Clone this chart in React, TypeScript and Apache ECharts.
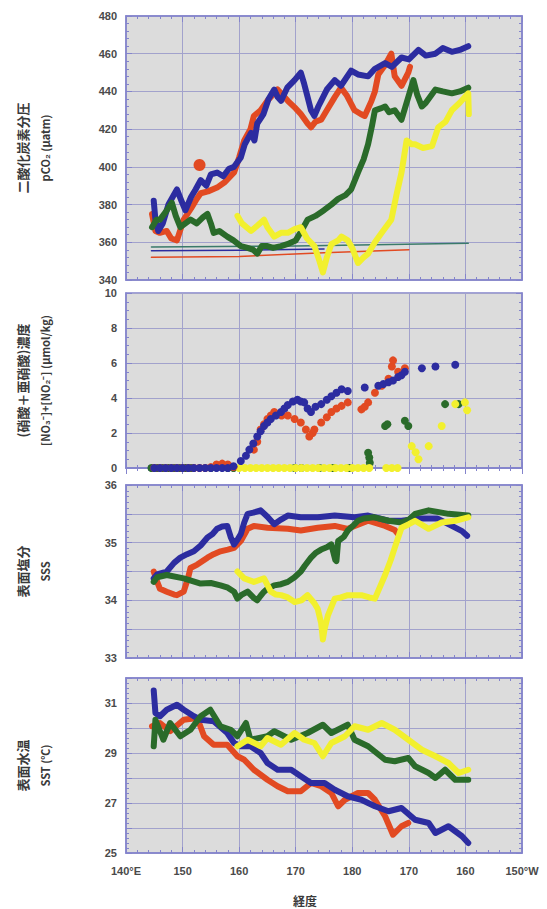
import React, { useEffect, useRef } from "react";
import * as echarts from "echarts";

// ---- Longitude axis ----
const lonTicks = [140, 150, 160, 170, 180, 190, 200, 210];
const lonTickLabels = ["140°E", "150", "160", "170", "180", "170", "160", "150°W"];

// ---- Panel 1: pCO2 (μatm) ----
const pco2Blue = [[144.9,382],[145.2,372],[145.7,366],[146.5,370],[147.5,380],[149.0,388],[149.8,382],[150.5,377],[151.5,384],[152.3,388],[153.2,393],[154.2,390],[155.0,396],[156.1,397],[157.2,395],[158.2,399],[159.1,400],[160.3,405],[161.0,412],[162.1,418],[162.7,414],[163.2,423],[164.3,428],[165.2,436],[166.2,441],[166.8,437],[167.4,435],[168.5,442],[169.8,446],[170.9,450],[171.5,444],[172.1,437],[172.7,430],[173.3,427],[174.0,432],[174.5,435],[175.5,441],[176.9,446],[178.0,443],[179.8,451],[181.0,449],[182.8,448],[184.0,452],[185.8,455],[187.0,453],[188.7,458],[190.0,457],[191.7,462],[193.0,459],[194.7,460],[196.0,463],[197.6,461],[199.0,462],[200.5,464]];
const pco2Red = [[144.6,375],[145.2,366],[146.0,365],[147.2,366],[148.0,362],[149.0,361],[150.2,372],[151.5,378],[152.5,383],[153.2,386],[154.5,387],[156.1,389],[157.5,392],[159.1,397],[160.0,405],[160.9,414],[162.0,420],[162.6,427],[163.8,430],[165.0,435],[166.8,441],[168.0,437],[168.6,435],[170.0,431],[170.9,428],[172.1,423],[172.7,421],[173.5,424],[174.5,425],[175.5,430],[176.9,437],[178.0,442],[179.0,438],[180.4,430],[181.5,428],[182.2,427],[183.4,435],[184.0,440],[184.6,449],[185.8,454],[186.9,460],[187.5,448],[188.7,443],[189.9,450],[190.2,453]];
const pco2RedBlob = [[153.0, 401]];
const pco2Green = [[144.6,368],[145.4,372],[146.0,372],[147.0,376],[148.1,381],[148.8,374],[149.6,368],[150.5,370],[151.4,372],[152.5,370],[153.5,373],[154.4,375],[155.0,370],[155.5,365],[156.5,366],[157.9,363],[159.0,361],[160.3,358],[161.5,357],[162.5,356],[163.2,354],[164.0,358],[165.0,358],[166.0,357],[167.4,358],[168.5,359],[170.0,361],[171.0,366],[172.1,372],[173.5,374],[175.0,377],[176.3,380],[177.5,383],[178.8,385],[179.8,388],[181.0,397],[182.0,404],[182.8,412],[183.5,422],[184.0,430],[185.0,431],[185.8,432],[186.5,429],[187.5,430],[188.7,425],[189.3,431],[189.9,437],[190.8,446],[191.5,438],[192.3,432],[193.0,434],[194.7,441],[196.0,440],[197.6,439],[199.0,440],[200.5,442]];
const pco2Yellow = [[159.7,374],[160.5,370],[162.1,366],[163.3,369],[164.4,372],[165.0,368],[166.2,363],[167.4,365],[168.6,365],[169.8,367],[170.9,368],[172.0,362],[173.3,358],[174.2,350],[174.8,344],[175.5,352],[176.3,359],[177.5,361],[178.1,363],[179.2,361],[180.0,357],[181.0,349],[182.0,352],[182.8,354],[184.0,360],[185.2,365],[186.9,372],[187.8,385],[188.7,397],[189.6,414],[190.5,412],[191.1,412],[192.5,410],[194.1,411],[195.2,421],[196.5,424],[197.6,430],[199.0,434],[200.5,439],[200.6,428]];
const atmBlue = [[144.5,355.5],[160,355.8],[175,356.5]];
const atmRed = [[144.5,352],[160,352.5],[175,354.5],[190,356]];
const atmTeal = [[144.5,357.5],[170,358],[200.5,359.5]];

// ---- Panel 2: nitrate + nitrite (μmol/kg) ----
const no3Blue = [[145,0],[146,0],[147,0],[148,0],[149,0],[150,0],[151,0],[152,0],[153,0],[154,0],[155,0],[156,0],[157,0],[158,0],[159,0.1],[160.3,0.4],[161.2,0.7],[161.8,1.05],[162.5,1.4],[163.2,1.8],[163.8,2.1],[164.4,2.4],[165.0,2.6],[165.6,2.8],[166.5,3.0],[167.4,3.2],[168.0,3.4],[168.6,3.6],[169.5,3.8],[170.3,3.9],[170.9,3.8],[171.5,3.75],[172.1,3.4],[172.7,3.2],[173.5,3.5],[174.5,3.65],[175.5,3.9],[176.3,4.1],[177.2,4.3],[178.1,4.5],[179.2,4.4],[182.2,4.6],[184.6,4.7],[185.5,4.8],[186.4,4.9],[187.2,5.0],[188.1,5.2],[188.7,5.3],[189.3,5.5],[192.3,5.7],[194.7,5.8],[198.2,5.9]];
const no3Red = [[145,0],[146,0],[147,0],[148,0],[149,0],[150,0],[151,0],[152,0],[153,0],[154,0],[155,0.05],[156,0.2],[157,0.25],[158,0.2],[159,0.05],[162.6,1.05],[163.2,1.5],[163.8,2.2],[164.4,2.5],[165.0,2.8],[165.6,3.0],[166.2,3.2],[167.5,3.0],[168.6,3.0],[169.8,2.8],[170.9,2.6],[171.8,2.2],[172.4,1.8],[173.0,2.0],[173.3,2.2],[174.5,2.6],[175.5,2.9],[176.3,3.2],[177.2,3.4],[178.1,3.55],[179.2,3.75],[181.6,3.35],[182.2,3.5],[182.8,3.75],[184.0,4.3],[185.2,4.7],[186.4,5.1],[187.0,5.8],[187.2,6.15],[188.1,5.5],[189.3,5.7]];
const no3Green = [[144.5,0],[145.5,0],[146.5,0],[147.5,0],[148.5,0],[149.5,0],[150.5,0],[151.5,0],[155,0],[158,0],[159,0],[169.8,0],[171,0],[174.2,0],[176.6,0],[179.5,0],[183.0,0.6],[183.1,0.3],[182.8,0.87],[185.8,2.4],[186.2,2.5],[189.3,2.7],[189.9,2.4],[196.4,3.65],[198.8,3.65]];
const no3Yellow = [[160,0],[161,0],[162,0],[163,0],[164,0],[165,0],[166,0],[167,0],[168,0],[169,0],[170,0],[171,0],[172,0],[173,0],[174,0],[175,0],[176,0],[177,0],[178,0],[179,0],[180,0],[181,0],[182,0],[183,0],[186,0],[187,0],[188,0],[190.5,1.25],[191.2,0.9],[191.7,0.5],[193.5,1.25],[195.8,2.4],[198.2,3.65],[199.9,3.75],[200.3,3.3]];

// ---- Panel 3: SSS ----
const sssBlue = [[144.9,34.38],[145.5,34.45],[147.2,34.5],[148.5,34.65],[149.6,34.74],[150.8,34.8],[152.0,34.85],[153.2,34.95],[154.4,35.09],[155.3,35.15],[156.1,35.24],[157.0,35.28],[157.9,35.29],[158.5,35.1],[159.1,34.97],[159.7,35.05],[160.3,35.15],[160.9,35.35],[161.5,35.5],[162.5,35.52],[163.8,35.56],[165.0,35.45],[166.2,35.32],[167.4,35.4],[168.6,35.47],[170.9,35.44],[173.9,35.44],[176.9,35.47],[180.4,35.44],[182.8,35.47],[186.4,35.38],[188.7,35.38],[192.0,35.42],[195.0,35.42],[198.2,35.26],[199.4,35.2],[200.3,35.12]];
const sssRed = [[144.9,34.5],[145.4,34.35],[146.0,34.2],[147.2,34.15],[148.5,34.1],[149.0,34.09],[150.2,34.15],[151.0,34.4],[151.4,34.56],[152.6,34.62],[154.4,34.74],[155.5,34.8],[156.7,34.85],[158.0,34.88],[159.1,34.91],[160.3,35.03],[161.5,35.24],[162.6,35.29],[165.0,35.26],[168.6,35.24],[170.9,35.21],[173.9,35.26],[176.9,35.29],[179.2,35.24],[182.8,35.38],[185.8,35.29],[187.5,35.22],[188.1,35.15]];
const sssGreen = [[144.9,34.32],[145.5,34.4],[147.2,34.44],[150.2,34.38],[153.2,34.29],[155.0,34.3],[156.7,34.26],[158.0,34.22],[159.1,34.15],[159.7,34.03],[160.5,34.1],[161.5,34.15],[162.5,34.05],[163.2,34.0],[163.8,34.08],[164.4,34.15],[165.0,34.2],[166.2,34.26],[167.4,34.28],[168.6,34.32],[169.8,34.4],[170.9,34.5],[171.6,34.6],[172.7,34.74],[173.5,34.82],[174.5,34.88],[175.5,34.92],[176.3,34.97],[177.0,34.7],[177.2,34.68],[177.5,35.03],[178.5,35.1],[179.2,35.21],[180.2,35.3],[181.0,35.38],[182.0,35.42],[183.9,35.44],[186.4,35.38],[188.7,35.35],[190.0,35.4],[191.1,35.5],[193.5,35.56],[197.0,35.5],[200.5,35.47]];
const sssYellow = [[159.7,34.5],[160.9,34.38],[162.6,34.32],[164.4,34.38],[165.6,34.15],[166.5,34.1],[167.4,34.09],[168.6,34.05],[169.8,33.97],[171.0,34.0],[172.1,34.09],[173.3,33.95],[173.9,33.85],[174.5,33.6],[174.8,33.32],[175.1,33.5],[175.7,33.74],[176.9,34.03],[178.0,34.05],[179.2,34.09],[181.6,34.09],[183.0,34.05],[184.0,34.03],[185.8,34.44],[186.8,34.7],[187.5,34.91],[188.7,35.26],[190.0,35.32],[191.1,35.38],[193.5,35.24],[195.8,35.35],[198.2,35.38],[200.5,35.44]];

// ---- Panel 4: SST (℃) ----
const sstBlue = [[144.9,31.5],[145.2,30.6],[146.0,30.47],[147.2,30.73],[149.0,30.93],[150.2,30.73],[152.0,30.47],[153.2,30.33],[155.5,30.27],[157.9,29.8],[159.1,29.4],[160.3,29.27],[162.0,29.27],[163.8,29.0],[165.0,28.6],[166.8,28.33],[169.2,28.33],[170.9,28.07],[172.7,27.8],[175.1,27.8],[176.9,27.53],[179.2,27.27],[181.6,27.13],[184.0,26.87],[186.4,26.67],[188.7,26.8],[191.1,26.33],[193.5,26.2],[194.7,25.8],[197.0,26.07],[199.4,25.67],[200.5,25.4]];
const sstRed = [[144.6,30.07],[146.0,30.2],[147.8,29.87],[150.2,30.33],[152.6,30.4],[153.8,29.67],[155.5,29.33],[157.9,29.33],[159.7,28.87],[160.9,28.73],[162.6,28.33],[165.0,27.93],[166.8,27.67],[168.6,27.47],[170.9,27.47],[172.7,27.8],[174.5,27.67],[176.3,27.4],[177.5,26.87],[178.7,27.13],[181.0,27.4],[182.8,27.4],[184.0,27.13],[185.8,26.47],[187.2,25.73],[188.7,26.07],[189.9,26.2]];
const sstGreen = [[144.9,29.27],[145.2,30.33],[146.6,29.53],[147.8,30.2],[149.6,29.67],[151.4,29.93],[153.2,30.47],[154.9,30.73],[156.7,30.07],[158.5,29.93],[159.7,29.67],[161.2,30.2],[162.0,29.53],[165.0,29.67],[166.2,29.87],[169.2,29.53],[172.1,29.8],[174.8,30.13],[176.3,29.8],[179.2,30.13],[180.4,29.53],[182.8,29.27],[185.8,28.73],[187.5,28.67],[189.9,28.8],[191.1,28.47],[193.5,28.2],[194.7,28.0],[196.4,28.33],[198.2,27.93],[200.5,27.93]];
const sstYellow = [[159.7,29.27],[161.5,29.53],[163.8,29.27],[165.0,29.6],[167.4,29.33],[169.8,29.8],[171.5,29.53],[173.3,29.4],[174.8,28.87],[176.3,29.4],[178.7,29.67],[180.4,30.07],[182.8,29.93],[185.2,30.2],[187.5,29.93],[189.9,29.53],[192.3,29.13],[194.7,28.87],[197.0,28.6],[198.8,28.2],[200.5,28.33]];

// ---- Axis titles ----
const yTitles = [
  ["二酸化炭素分圧", "pCO₂ (μatm)"],
  ["(硝酸＋亜硝酸)濃度", "[NO₃⁻]+[NO₂⁻] (μmol/kg)"],
  ["表面塩分", "SSS"],
  ["表面水温", "SST (℃)"],
];
const xTitle = "経度";

const C = {
  red: "#e24a22",
  blue: "#2c2ca0",
  green: "#2a6b2a",
  yellow: "#f2f02e",
  bg: "#dcdcdc",
  grid: "#a2a2cc",
  frame: "#8484cc",
  text: "#4a4a4a",
};

const grids = [
  { left: 126, top: 16, width: 396, height: 264 },
  { left: 126, top: 293, width: 396, height: 175 },
  { left: 126, top: 485, width: 396, height: 173 },
  { left: 126, top: 678, width: 396, height: 175 },
];

const yCfg = [
  { min: 340, max: 480, interval: 20, minor: 5, fmt: (v: number) => String(v) },
  { min: 0, max: 10, interval: 2, minor: 4, fmt: (v: number) => String(v) },
  { min: 33, max: 36, interval: 0.5, minor: 5, fmt: (v: number) => (Math.abs(v - Math.round(v)) < 1e-6 ? String(Math.round(v)) : "") },
  { min: 25, max: 32, interval: 1, minor: 5, fmt: (v: number) => (Math.round(v) % 2 === 1 ? String(Math.round(v)) : "") },
];

export default function App() {
  const ref = useRef<HTMLDivElement>(null);
  useEffect(() => {
    document.body.style.margin = "0";
    if (!ref.current) return;
    const chart = echarts.init(ref.current, undefined, { renderer: "svg" });

    const tickStyle = { color: C.frame, width: 1 };
    const xAxes: any[] = [];
    const yAxes: any[] = [];
    grids.forEach((g, i) => {
      const base = {
        type: "value",
        gridIndex: i,
        min: 140,
        max: 210,
        interval: 10,
        axisLine: { show: true, lineStyle: { color: C.frame, width: 1.5 } },
        axisTick: { show: true, inside: true, length: 6, lineStyle: tickStyle },
        minorTick: { show: true, splitNumber: 5, length: 3, lineStyle: tickStyle },
      };
      xAxes.push({
        ...base,
        position: "bottom",
        splitLine: { show: true, lineStyle: { color: C.grid, width: 1 } },
        axisLabel: {
          show: i === 3,
          margin: 12,
          color: C.text,
          fontSize: 11,
          fontWeight: "bold",
          fontFamily: "Liberation Sans, Arial, sans-serif",
          formatter: (v: number) => {
            const k = lonTicks.indexOf(Math.round(v));
            return k >= 0 ? lonTickLabels[k] : "";
          },
        },
      });
      xAxes.push({ ...base, position: "top", splitLine: { show: false }, axisLabel: { show: false } });
      const yc = yCfg[i];
      const ybase = {
        type: "value",
        gridIndex: i,
        min: yc.min,
        max: yc.max,
        interval: yc.interval,
        axisLine: { show: true, lineStyle: { color: C.frame, width: 1.5 } },
        axisTick: { show: true, inside: true, length: 6, lineStyle: tickStyle },
        minorTick: { show: true, splitNumber: yc.minor, length: 3, lineStyle: tickStyle },
      };
      yAxes.push({
        ...ybase,
        position: "left",
        splitLine: { show: true, lineStyle: { color: C.grid, width: 1 } },
        axisLabel: {
          show: true,
          margin: 9,
          color: C.text,
          fontSize: 11,
          fontWeight: "bold",
          fontFamily: "Liberation Sans, Arial, sans-serif",
          formatter: yc.fmt,
        },
      });
      yAxes.push({ ...ybase, position: "right", splitLine: { show: false }, axisLabel: { show: false } });
    });

    const line = (data: number[][], color: string, gi: number, width = 6, z = 2) => ({
      type: "line",
      data,
      xAxisIndex: gi * 2,
      yAxisIndex: gi * 2,
      showSymbol: false,
      symbol: "none",
      lineStyle: { color, width, join: "round", cap: "round" },
      z,
      silent: true,
    });
    const dots = (data: number[][], color: string, gi: number, size = 8) => ({
      type: "scatter",
      data,
      xAxisIndex: gi * 2,
      yAxisIndex: gi * 2,
      symbol: "circle",
      symbolSize: size,
      itemStyle: { color, opacity: 1 },
      silent: true,
    });

    const series: any[] = [
      line(atmRed, C.red, 0, 1.5),
      line(atmBlue, C.blue, 0, 1.5),
      line(atmTeal, "#3a7a6a", 0, 1.5),
      line(pco2Red, C.red, 0),
      dots(pco2RedBlob, C.red, 0, 12),
      line(pco2Blue, C.blue, 0),
      line(pco2Green, C.green, 0),
      line(pco2Yellow, C.yellow, 0),

      dots(no3Green, C.green, 1),
      dots(no3Yellow, C.yellow, 1),
      dots(no3Red, C.red, 1),
      dots(no3Blue, C.blue, 1),

      line(sssRed, C.red, 2),
      line(sssBlue, C.blue, 2),
      line(sssGreen, C.green, 2),
      line(sssYellow, C.yellow, 2),

      line(sstRed, C.red, 3),
      line(sstBlue, C.blue, 3),
      line(sstGreen, C.green, 3),
      line(sstYellow, C.yellow, 3),
    ];

    const graphics: any[] = [];
    grids.forEach((g, i) => {
      const cy = g.top + g.height / 2;
      graphics.push({
        type: "text",
        x: 22,
        y: cy,
        rotation: Math.PI / 2,
        style: {
          text: yTitles[i][0],
          align: "center",
          verticalAlign: "middle",
          fill: "#3a3a3a",
          font: "bold 13px 'Noto Sans CJK JP', sans-serif",
        },
      });
      graphics.push({
        type: "text",
        x: 45,
        y: cy,
        rotation: Math.PI / 2,
        style: {
          text: yTitles[i][1],
          align: "center",
          verticalAlign: "middle",
          fill: "#3a3a3a",
          font: "bold 11px 'Noto Sans CJK JP', sans-serif",
        },
      });
    });
    graphics.push({
      type: "text",
      x: 305,
      y: 900,
      style: {
        text: xTitle,
        align: "center",
        verticalAlign: "middle",
        fill: "#3a3a3a",
        font: "bold 12px 'Noto Sans CJK JP', sans-serif",
      },
    });

    chart.setOption({
      animation: false,
      backgroundColor: "#ffffff",
      grid: grids.map((g) => ({
        ...g,
        show: true,
        backgroundColor: C.bg,
        borderColor: C.frame,
        borderWidth: 1.5,
        containLabel: false,
      })),
      xAxis: xAxes,
      yAxis: yAxes,
      series,
      graphic: graphics,
    });
    return () => chart.dispose();
  }, []);
  return <div ref={ref} style={{ width: 547, height: 909 }} />;
}
